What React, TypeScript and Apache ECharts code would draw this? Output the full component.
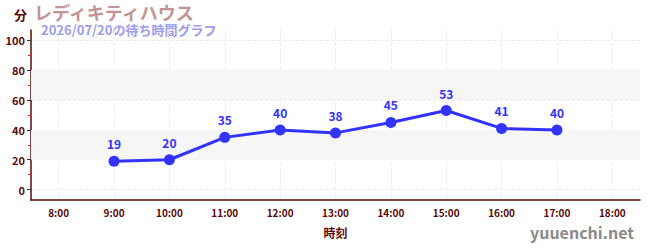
import React, { useEffect, useRef } from "react";
import * as echarts from "echarts";

const hours = ["8:00", "9:00", "10:00", "11:00", "12:00", "13:00", "14:00", "15:00", "16:00", "17:00", "18:00"];
const waitTimes: (number | null)[] = [null, 19, 20, 35, 40, 38, 45, 53, 41, 40, null];
const yMajorTicks = [0, 20, 40, 60, 80, 100];
const yMinorTicks = [10, 30, 50, 70, 90];
const bands: [number, number][] = [[20, 40], [60, 80]];

const FONT = "'Noto Sans CJK JP', 'Noto Sans', sans-serif";
const AXIS_COLOR = "#5a0a0a";

export default function App() {
  const ref = useRef<HTMLDivElement>(null);
  useEffect(() => {
    document.body.style.margin = "0";
    const chart = echarts.init(ref.current!, null, { renderer: "svg" });
    chart.setOption({
      animation: false,
      textStyle: { fontFamily: FONT },
      grid: { left: 31, right: 10, top: 30, bottom: 50, containLabel: false, outerBoundsMode: "none" },
      graphic: [
        { type: "text", left: 14, top: 8, style: { text: "分", fontSize: 13, fontWeight: "bold", fill: AXIS_COLOR, fontFamily: FONT } },
        { type: "text", left: 34, top: 3, style: { text: "レディキティハウス", fontSize: 18, fontWeight: "bold", fill: "#c49494", fontFamily: FONT } },
        { type: "text", left: 41, top: 23, style: { text: "2026/07/20の待ち時間グラフ", fontSize: 13, fontWeight: "bold", fill: "#9c9cf0", fontFamily: FONT } },
        { type: "text", right: 16, top: 224, style: { text: "yuuenchi.net", fontSize: 16, fontWeight: "bold", fill: "#8a8a8a", fontFamily: FONT } },
      ],
      xAxis: {
        type: "category",
        data: hours,
        boundaryGap: true,
        name: "時刻",
        nameLocation: "middle",
        nameGap: 26,
        nameTextStyle: { color: AXIS_COLOR, fontSize: 12, fontWeight: "bold", fontFamily: FONT },
        axisLine: { onZero: false, lineStyle: { color: AXIS_COLOR, width: 1.5 } },
        axisTick: { alignWithLabel: true, length: 4, lineStyle: { color: "#333" } },
        axisLabel: { color: AXIS_COLOR, fontSize: 10, fontWeight: "bold", margin: 7, fontFamily: FONT },
        splitLine: { show: true, alignWithLabel: true, lineStyle: { color: "#eeeeee", type: "dashed" } },
      },
      yAxis: [
        {
          type: "value",
          min: -7,
          max: 107,
          axisLine: { show: true, lineStyle: { color: AXIS_COLOR, width: 1.5 } },
          axisTick: { show: true, length: 4, customValues: yMajorTicks, lineStyle: { color: "#333" } },
          axisLabel: { customValues: yMajorTicks, color: AXIS_COLOR, fontSize: 11, fontWeight: "bold", margin: 6, fontFamily: FONT },
          splitLine: { show: true, lineStyle: { color: "#eeeeee", type: "dashed" } },
        },
        {
          type: "value",
          min: -7,
          max: 107,
          position: "left",
          axisLine: { show: false },
          axisTick: { show: true, length: 3, customValues: yMinorTicks, lineStyle: { color: "#dd2222" } },
          axisLabel: { show: false },
          splitLine: { show: false },
        },
      ],
      series: [
        {
          type: "line",
          data: waitTimes,
          yAxisIndex: 0,
          symbol: "circle",
          symbolSize: 11,
          lineStyle: { color: "#3333ff", width: 3 },
          itemStyle: { color: "#3333ff" },
          label: { show: true, position: "top", color: "#3333ff", fontSize: 12, fontWeight: "bold", distance: 6, fontFamily: FONT },
          markArea: {
            silent: true,
            itemStyle: { color: "#f6f6f6" },
            data: bands.map(([a, b]) => [{ yAxis: a }, { yAxis: b }]),
          },
          z: 3,
        },
      ],
    });
    return () => chart.dispose();
  }, []);
  return <div ref={ref} style={{ width: 650, height: 250 }} />;
}
